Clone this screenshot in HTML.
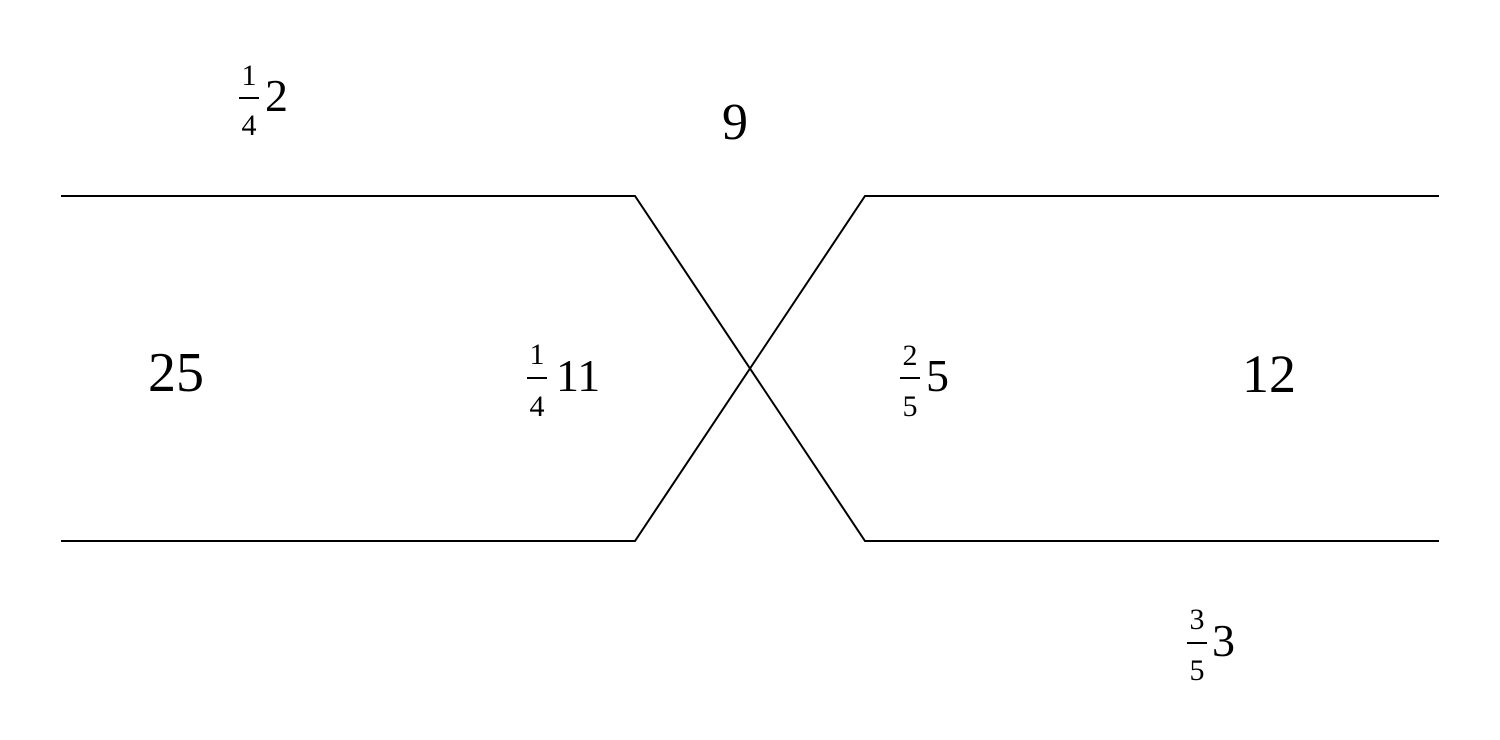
<!DOCTYPE html>
<html><head><style>body{margin:0;background:#fff}svg{display:block}svg text{font-family:"Liberation Serif","DejaVu Serif",serif}</style></head>
<body>
<svg width="1500" height="740" xmlns="http://www.w3.org/2000/svg" style="font-family:'Liberation Serif',serif" fill="#000">
<polyline points="61,196 635,196 865,541 1439,541" fill="none" stroke="#000" stroke-width="2"/>
<polyline points="61,541 635,541 865,196 1439,196" fill="none" stroke="#000" stroke-width="2"/>
<text x="176" y="391" font-size="56" text-anchor="middle">25</text>
<text x="1269" y="392" font-size="54" text-anchor="middle">12</text>
<text x="735" y="139" font-size="52" text-anchor="middle">9</text>
<text x="537" y="364" font-size="30" text-anchor="middle">1</text>
<rect x="527" y="377" width="20" height="2"/>
<text x="537" y="416" font-size="30" text-anchor="middle">4</text>
<text x="556" y="391" font-size="46">11</text>
<text x="249" y="85" font-size="30" text-anchor="middle">1</text>
<rect x="239" y="97" width="20" height="2"/>
<text x="249" y="135" font-size="30" text-anchor="middle">4</text>
<text x="265" y="111" font-size="46">2</text>
<text x="910" y="365" font-size="30" text-anchor="middle">2</text>
<rect x="900" y="377" width="20" height="2"/>
<text x="910" y="416" font-size="30" text-anchor="middle">5</text>
<text x="926" y="391" font-size="46">5</text>
<text x="1197" y="629" font-size="30" text-anchor="middle">3</text>
<rect x="1187" y="642" width="20" height="2"/>
<text x="1197" y="680" font-size="30" text-anchor="middle">5</text>
<text x="1212" y="656" font-size="46">3</text>
</svg>
</body></html>
